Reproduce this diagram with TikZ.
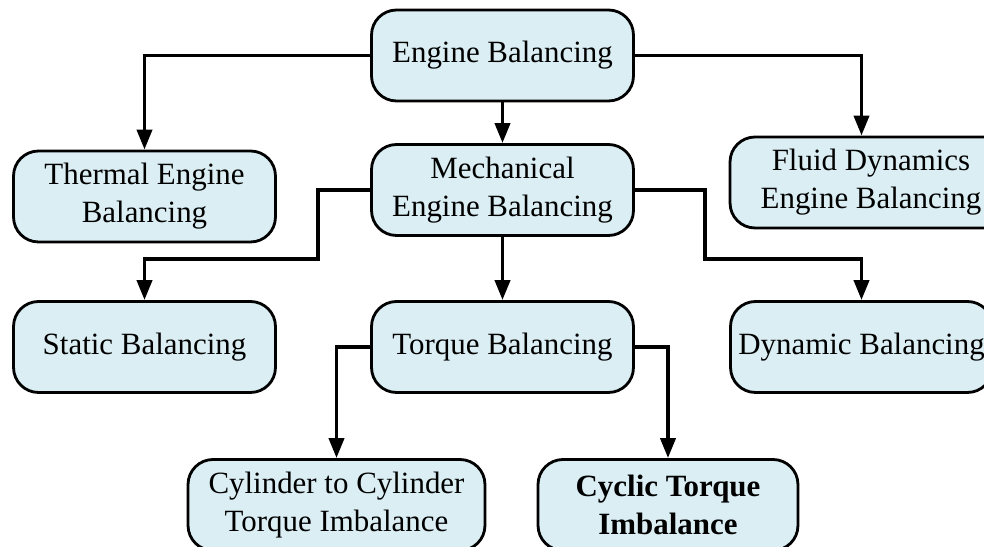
\documentclass[tikz,border=0pt]{standalone}
\usepackage{fontspec}
\setmainfont{Liberation Serif}
\usetikzlibrary{arrows.meta}
\definecolor{boxblue}{RGB}{218,238,243}

\tikzset{
  box/.style={draw=black, line width=1.6pt, fill=boxblue, rounded corners=0.5cm,
    minimum width=5.24cm, minimum height=1.82cm, align=center, inner sep=2pt,
    font=\fontsize{17.6}{21.5}\selectfont},
  conn/.style={line width=2.2pt, -{Triangle[width=0.3cm,length=0.4cm]}},
}

\begin{document}
\begin{tikzpicture}[x=0.02cm, y=0.02cm]
\useasboundingbox (0,0) rectangle (984,547);
\clip (0,0) rectangle (984,547);

%%%%%%%%%%%%%%%%%%%%%%%%%%%%%%%
\node[box] (eng) at (502.5,491.5) {Engine Balancing};

\node[box] (therm) at (144.5,350.5) {Thermal Engine\\Balancing};
\node[box] (mech) at (502.5,357) {Mechanical\\Engine Balancing};
\node[box, minimum width=5.64cm] (fluid) at (871,364.5) {Fluid Dynamics\\Engine Balancing};

\node[box] (static) at (144.5,200) {Static Balancing};
\node[box] (torque) at (502.5,200) {Torque Balancing};
\node[box] (dyn) at (861.5,200) {Dynamic Balancing};

\node[box, minimum width=5.94cm] (cyl) at (336.5,42) {Cylinder to Cylinder\\Torque Imbalance};
\node[box, minimum width=5.2cm, font=\fontsize{17.6}{21.5}\selectfont\bfseries] (cyc) at (668,42) {Cyclic Torque\\Imbalance};

%%%%%%%%%%%%%%%%%%%%%%%%%%%%%%%
\draw[conn] (eng.west) -| (therm.north);
\draw[conn] (eng.south) -- (mech.north);
\draw[conn] (eng.east) -| (fluid.north -| dyn.north);

\draw[conn] (mech.west) -| ++(-52,-69) -| (static.north);
\draw[conn] (mech.south) -- (torque.north);
\draw[conn] (mech.east) -| ++(70,-69) -| (dyn.north);

\draw[conn] (torque.west) -| (cyl.north);
\draw[conn] (torque.east) -| (cyc.north);
\end{tikzpicture}
\end{document}
